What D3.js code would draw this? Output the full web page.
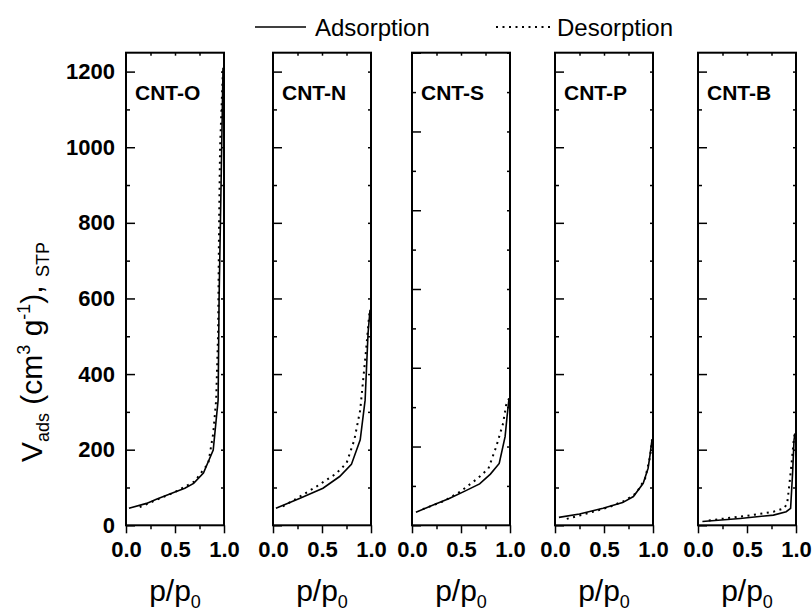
<!DOCTYPE html>
<html>
<head>
<meta charset="utf-8">
<script src="https://cdn.jsdelivr.net/npm/d3@7"></script>
<style>
  body { margin: 0; background: #fff; }
  text { font-family: "Liberation Sans", Arial, sans-serif; fill: #000; }
</style>
</head>
<body>
<script>
// panel names and y-axis maximum of each panel
var panelNames = ['CNT-O', 'CNT-N', 'CNT-S', 'CNT-P', 'CNT-B'];
var panelYMax = [1250, 1250, 1200, 1250, 1250];

// x tick values / labels and y ticks
var xMajorTicks = [0, 0.5, 1.0];
var xMinorTicks = [0.25, 0.75];
var yMajorTicks = [0, 200, 400, 600, 800, 1000, 1200];
var yMinorTicks = [100, 300, 500, 700, 900, 1100];

var legendLabels = ['Adsorption', 'Desorption'];

// isotherms: [p/p0, V_ads]
var adsO = [[0.03,45],[0.21,58],[0.31,69],[0.48,86],[0.60,98],[0.69,111],[0.79,138],[0.89,199],[0.94,331],[0.95,600],[0.97,900],[0.99,1210]];
var desO = [[0.14,48],[0.30,66],[0.50,88],[0.70,116],[0.84,164],[0.89,243],[0.92,331],[0.94,508],[0.95,800],[0.96,1000],[0.99,1210]];

var adsN = [[0.03,45],[0.27,71],[0.51,98],[0.68,129],[0.80,161],[0.89,226],[0.94,331],[0.97,508],[0.99,570]];
var desN = [[0.10,50],[0.25,72],[0.44,102],[0.64,136],[0.75,164],[0.83,226],[0.89,305],[0.95,464],[0.98,552],[0.99,570]];

var adsS = [[0.04,33],[0.21,51],[0.38,68],[0.55,88],[0.69,105],[0.80,130],[0.89,157],[0.95,225],[0.97,276],[0.99,322]];
var desS = [[0.11,41],[0.33,62],[0.49,85],[0.67,119],[0.78,144],[0.86,200],[0.93,259],[0.96,305],[0.99,322]];

var adsP = [[0.04,21],[0.25,30],[0.49,45],[0.69,60],[0.80,76],[0.90,111],[0.95,151],[0.97,186],[0.99,227]];
var desP = [[0.12,17],[0.35,33],[0.55,48],[0.72,66],[0.83,85],[0.92,124],[0.97,181],[0.99,227]];

var adsB = [[0.045,10],[0.43,18],[0.77,27],[0.90,36],[0.945,45],[0.965,137],[0.98,226],[0.99,243]];
var desB = [[0.11,13],[0.47,24],[0.77,36],[0.88,45],[0.91,58],[0.93,102],[0.955,164],[0.98,234],[0.99,243]];

var adsorption = [adsO, adsN, adsS, adsP, adsB];
var desorption = [desO, desN, desS, desP, desB];

// layout
var width = 812, height = 614;
var panelLeft = [126, 273, 412, 555, 698];
var panelWidth = 98;
var plotTop = 52.7, plotBottom = 525.3;

var svg = d3.select('body').append('svg')
    .attr('width', width)
    .attr('height', height);

var dotted = '2,4.5';

panelNames.forEach(function (name, i) {
    var x = d3.scaleLinear().domain([0, 1]).range([panelLeft[i], panelLeft[i] + panelWidth]);
    var y = d3.scaleLinear().domain([0, panelYMax[i]]).range([plotBottom, plotTop]);

    var g = svg.append('g').attr('class', 'panel');

    var line = d3.line()
        .x(function (d) { return x(d[0]); })
        .y(function (d) { return y(d[1]); });

    //curves
    g.append('path')
        .datum(adsorption[i])
        .attr('d', line)
        .attr('fill', 'none')
        .attr('stroke', '#000')
        .attr('stroke-width', 1.6);

    g.append('path')
        .datum(desorption[i])
        .attr('d', line)
        .attr('fill', 'none')
        .attr('stroke', '#000')
        .attr('stroke-width', 2)
        .attr('stroke-dasharray', dotted);

    //left axis, labels only on first panel
    var left = g.append('g')
        .attr('transform', 'translate(' + panelLeft[i] + ',0)')
        .call(d3.axisLeft(y).tickValues(yMajorTicks.filter(function (v) { return v <= panelYMax[i]; }))
            .tickSize(-9).tickPadding(11)
            .tickFormat(i === 0 ? d3.format('d') : function () { return ''; }));
    left.selectAll('text').style('font-size', '22px').style('font-weight', 'bold');

    g.append('g')
        .attr('transform', 'translate(' + panelLeft[i] + ',0)')
        .call(d3.axisLeft(y).tickValues(yMinorTicks).tickSize(-4).tickFormat(''));

    //right side small ticks
    g.append('g')
        .attr('transform', 'translate(' + (panelLeft[i] + panelWidth) + ',0)')
        .call(d3.axisRight(y).tickValues(yMajorTicks.concat(yMinorTicks).filter(function (v) { return v > 0 && v <= panelYMax[i]; }))
            .tickSize(-3).tickFormat(''));

    //bottom axis
    var bottom = g.append('g')
        .attr('transform', 'translate(0,' + plotBottom + ')')
        .call(d3.axisBottom(x).tickValues(xMajorTicks).tickSize(8).tickPadding(8).tickFormat(d3.format('.1f')));
    bottom.selectAll('text').style('font-size', '22px').style('font-weight', 'bold');

    g.append('g')
        .attr('transform', 'translate(0,' + plotBottom + ')')
        .call(d3.axisBottom(x).tickValues(xMinorTicks).tickSize(4).tickFormat(''));

    //top small ticks
    g.append('g')
        .attr('transform', 'translate(0,' + plotTop + ')')
        .call(d3.axisTop(x).tickValues([0.25, 0.5, 0.75]).tickSize(-3).tickFormat(''));

    g.selectAll('.domain').remove();
    g.selectAll('.tick line').attr('stroke', '#000').attr('stroke-width', 1.5);

    //frame
    g.append('rect')
        .attr('x', panelLeft[i])
        .attr('y', plotTop)
        .attr('width', panelWidth)
        .attr('height', plotBottom - plotTop)
        .attr('fill', 'none')
        .attr('stroke', '#000')
        .attr('stroke-width', 2);

    g.append('text')
        .attr('x', panelLeft[i] + 9)
        .attr('y', 100)
        .style('font-size', '21px')
        .style('font-weight', 'bold')
        .text(name);

    //x title
    var xt = g.append('text')
        .attr('x', panelLeft[i] + panelWidth / 2)
        .attr('y', 601)
        .attr('text-anchor', 'middle')
        .style('font-size', '30px');
    xt.append('tspan').text('p/p');
    xt.append('tspan').attr('dy', 7).style('font-size', '18px').text('0');
});

//y title
var yt = svg.append('text')
    .attr('transform', 'translate(42,352) rotate(-90)')
    .attr('text-anchor', 'middle')
    .style('font-size', '30px');
yt.append('tspan').text('V');
yt.append('tspan').attr('dy', 7).style('font-size', '18px').text('ads');
yt.append('tspan').attr('dy', -7).text(' (cm');
yt.append('tspan').attr('dy', -12).style('font-size', '18px').text('3');
yt.append('tspan').attr('dy', 12).text(' g');
yt.append('tspan').attr('dy', -12).style('font-size', '18px').text('-1');
yt.append('tspan').attr('dy', 12).text('), ');
yt.append('tspan').attr('dy', 7).style('font-size', '18px').text('STP');

//legend
var legend = svg.append('g');
var legendX = [[255, 306, 315], [496, 550, 557]];
legendLabels.forEach(function (label, i) {
    legend.append('line')
        .attr('x1', legendX[i][0]).attr('x2', legendX[i][1])
        .attr('y1', 27).attr('y2', 27)
        .attr('stroke', '#000')
        .attr('stroke-width', i === 0 ? 1.6 : 2)
        .attr('stroke-dasharray', i === 0 ? null : dotted);
    legend.append('text')
        .attr('x', legendX[i][2])
        .attr('y', 36)
        .style('font-size', '24px')
        .text(label);
});
</script>
</body>
</html>
